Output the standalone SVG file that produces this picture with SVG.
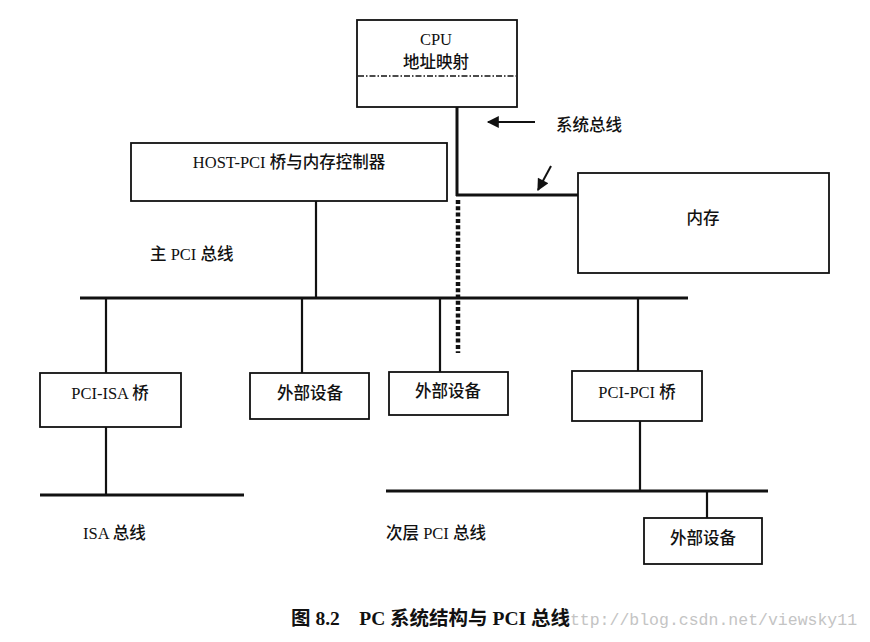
<svg xmlns="http://www.w3.org/2000/svg" width="870" height="642" viewBox="0 0 870 642">
<defs>
<style>
.box{fill:#fff;stroke:#111;stroke-width:1.8}
.t{font-family:"Liberation Serif","Noto Sans CJK SC",serif;font-size:16.5px;font-weight:500;fill:#111;text-anchor:middle}
.l{font-family:"Liberation Serif","Noto Sans CJK SC",serif;font-size:16.5px;font-weight:500;fill:#111}
.bus{stroke:#111;stroke-width:3;fill:none}
.ln{stroke:#111;stroke-width:2.2;fill:none}
</style>
<marker id="ah" viewBox="0 0 10 10" refX="9" refY="5" markerWidth="14" markerHeight="12" markerUnits="userSpaceOnUse" orient="auto">
<path d="M0,0 L10,5 L0,10 z" fill="#111"/>
</marker>
</defs>
<rect width="870" height="642" fill="#fff"/>
<g id="connectors">
<line class="bus" x1="457" y1="107" x2="457" y2="196"/>
<line class="bus" x1="456" y1="195" x2="578" y2="195"/>
<line x1="458" y1="200" x2="458" y2="353" stroke="#111" stroke-width="4.5" stroke-dasharray="4 2.3"/>
<line class="ln" x1="316" y1="201" x2="316" y2="298"/>
<line class="bus" x1="80" y1="298" x2="688" y2="298"/>
<line class="ln" x1="106" y1="298" x2="106" y2="373"/>
<line class="ln" x1="302" y1="298" x2="302" y2="373"/>
<line class="ln" x1="440" y1="298" x2="440" y2="372"/>
<line class="ln" x1="638" y1="298" x2="638" y2="371"/>
<line class="ln" x1="106" y1="427" x2="106" y2="495"/>
<line class="bus" x1="40" y1="495" x2="244" y2="495"/>
<line class="ln" x1="640" y1="421" x2="640" y2="491"/>
<line class="bus" x1="386" y1="491" x2="768" y2="491"/>
<line class="ln" x1="707" y1="491" x2="707" y2="518"/>
<line x1="535" y1="122" x2="488" y2="122" stroke="#111" stroke-width="2" marker-end="url(#ah)"/>
<line x1="551" y1="166" x2="538" y2="190" stroke="#111" stroke-width="2" marker-end="url(#ah)"/>
</g>
<g id="cpu">
<rect class="box" x="357" y="20" width="160" height="87"/>
<line x1="358" y1="76" x2="516" y2="76" stroke="#111" stroke-width="1.3" stroke-dasharray="6 2 1.5 2"/>
<text class="t" x="436" y="45">CPU</text>
<text class="t" x="436" y="68">地址映射</text>
</g>
<g id="label-sysbus"><text class="l" x="556" y="131">系统总线</text></g>
<g id="host-pci">
<rect class="box" x="131" y="143" width="316" height="58"/>
<text class="t" x="289" y="168">HOST-PCI 桥与内存控制器</text>
</g>
<g id="memory">
<rect class="box" x="578" y="173" width="251" height="100"/>
<text class="t" x="703" y="224">内存</text>
</g>
<g id="label-mainpci"><text class="l" x="150" y="260">主 PCI 总线</text></g>
<g id="pci-isa">
<rect class="box" x="40" y="373" width="141" height="54"/>
<text class="t" x="110" y="399">PCI-ISA 桥</text>
</g>
<g id="dev1">
<rect class="box" x="250" y="373" width="119" height="46"/>
<text class="t" x="310" y="399">外部设备</text>
</g>
<g id="dev2">
<rect class="box" x="389" y="372" width="119" height="43"/>
<text class="t" x="448" y="397">外部设备</text>
</g>
<g id="pci-pci">
<rect class="box" x="572" y="371" width="130" height="50"/>
<text class="t" x="637" y="398">PCI-PCI 桥</text>
</g>
<g id="dev3">
<rect class="box" x="644" y="518" width="118" height="46"/>
<text class="t" x="703" y="544">外部设备</text>
</g>
<g id="label-isa"><text class="l" x="83" y="539">ISA 总线</text></g>
<g id="label-secpci"><text class="l" x="386" y="539">次层 PCI 总线</text></g>
<g id="caption">
<text x="560" y="625" font-family="Liberation Mono,monospace" font-size="16.5" fill="#c4c4c4">http://blog.csdn.net/viewsky11</text>
<text x="291" y="625" font-family="Liberation Serif,'Noto Sans CJK SC',serif" font-size="19.5" font-weight="bold" fill="#111" xml:space="preserve">图 8.2　PC 系统结构与 PCI 总线</text>
</g>
</svg>
